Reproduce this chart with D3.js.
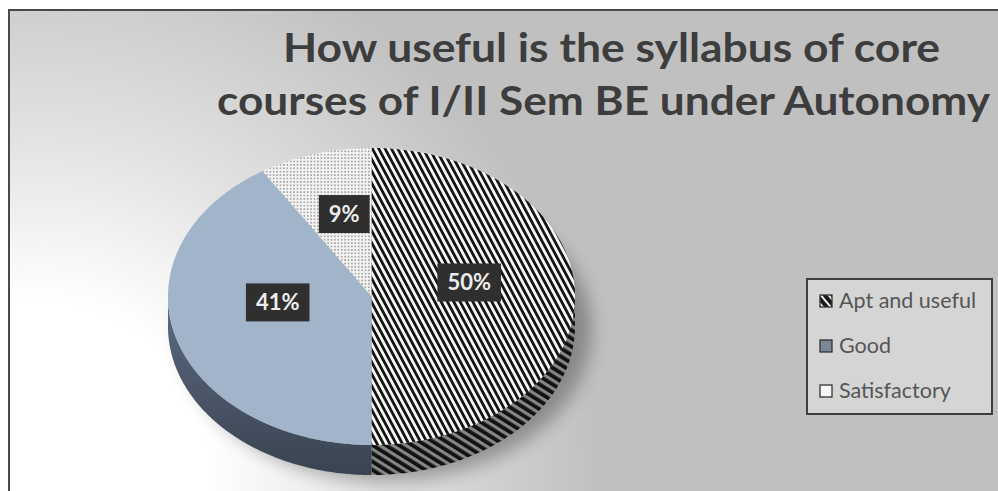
<!DOCTYPE html>
<html>
<head>
<meta charset="utf-8">
<script src="https://cdn.jsdelivr.net/npm/d3@7"></script>
<style>
  html, body { margin: 0; padding: 0; background: #ffffff; overflow: hidden; }
  svg { display: block; }
</style>
</head>
<body>
<svg id="chart" width="998" height="491"></svg>
<script>
// ---- data ----
const titleLines = ["How useful is the syllabus of core", "courses of I/II Sem BE under Autonomy"];
const categories = ["Apt and useful", "Good", "Satisfactory"];
const shares = [50, 41, 9];
const shareLabels = ["50%", "41%", "9%"];

// ---- setup ----
const W = 998, H = 491;
const svg = d3.select("#chart");
const defs = svg.append("defs");

// chart area background: light corner bottom-left fading to grey
const bg = defs.append("radialGradient")
  .attr("id", "bgGrad").attr("gradientUnits", "userSpaceOnUse")
  .attr("cx", 40).attr("cy", 470).attr("r", 560);
bg.selectAll("stop")
  .data([[0, "#ffffff"], [0.3, "#ffffff"], [0.6, "#e2e2e2"], [1, "#c0c0c0"]])
  .join("stop")
  .attr("offset", d => d[0]).attr("stop-color", d => d[1]);

// diagonal hatch for the top of "Apt and useful"
const hatchTop = defs.append("pattern")
  .attr("id", "hatchTop").attr("patternUnits", "userSpaceOnUse")
  .attr("width", 5.6).attr("height", 5.6)
  .attr("patternTransform", "rotate(-28)");
hatchTop.append("rect").attr("width", 5.6).attr("height", 5.6).attr("fill", "#f5f5f5");
hatchTop.append("rect").attr("width", 2.8).attr("height", 5.6).attr("fill", "#151515");

// darker, flatter hatch for its outer wall
const hatchSide = defs.append("pattern")
  .attr("id", "hatchSide").attr("patternUnits", "userSpaceOnUse")
  .attr("width", 7).attr("height", 7)
  .attr("patternTransform", "rotate(-58)");
hatchSide.append("rect").attr("width", 7).attr("height", 7).attr("fill", "#858585");
hatchSide.append("rect").attr("width", 3.8).attr("height", 7).attr("fill", "#111111");

// fine dot screen for "Satisfactory"
const dots = defs.append("pattern")
  .attr("id", "dots").attr("patternUnits", "userSpaceOnUse")
  .attr("width", 3.4).attr("height", 3.4);
dots.append("rect").attr("width", 3.4).attr("height", 3.4).attr("fill", "#f3f3f3");
dots.append("circle").attr("cx", 1.7).attr("cy", 1.7).attr("r", 0.85).attr("fill", "#8f8f8f");

// legend swatch hatch
const hatchKey = defs.append("pattern")
  .attr("id", "hatchKey").attr("patternUnits", "userSpaceOnUse")
  .attr("width", 6).attr("height", 6)
  .attr("patternTransform", "rotate(-40)");
hatchKey.append("rect").attr("width", 6).attr("height", 6).attr("fill", "#1a1a1a");
hatchKey.append("rect").attr("width", 2).attr("height", 6).attr("fill", "#f0f0f0");

const blur = defs.append("filter").attr("id", "soft")
  .attr("x", "-30%").attr("y", "-30%").attr("width", "160%").attr("height", "160%");
blur.append("feGaussianBlur").attr("stdDeviation", 9);

// ---- frame ----
svg.append("rect")
  .attr("x", 9).attr("y", 10).attr("width", W + 10).attr("height", H + 10)
  .attr("fill", "url(#bgGrad)")
  .attr("stroke", "#4a4a4a").attr("stroke-width", 2);

// ---- title ----
const titleSpecs = [
  { x: 283, y: 62, len: 657 },
  { x: 217, y: 115, len: 773 }
];
svg.append("g").selectAll("text")
  .data(titleLines)
  .join("text")
  .attr("x", (d, i) => titleSpecs[i].x)
  .attr("y", (d, i) => titleSpecs[i].y)
  .attr("textLength", (d, i) => titleSpecs[i].len)
  .attr("lengthAdjust", "spacingAndGlyphs")
  .attr("font-family", "Lato, 'Open Sans', sans-serif")
  .attr("font-weight", "bold")
  .attr("font-size", 41)
  .attr("fill", "#3d3d3d")
  .text(d => d);

// ---- 3D pie ----
const cx = 371.5, cy = 296.5, rx = 203.5, ry = 148.5, depth = 30;
const arcs = d3.pie().sort(null).value(d => d)(shares);

const pt = (a, f = 1, dy = 0) => [cx + rx * f * Math.sin(a), cy - ry * f * Math.cos(a) + dy];
const sampleArc = (a0, a1, dy = 0) => {
  const n = Math.max(2, Math.ceil((a1 - a0) / 0.01));
  return d3.range(n + 1).map(i => pt(a0 + (a1 - a0) * i / n, 1, dy));
};
const line = d3.line();

const topFill = ["url(#hatchTop)", "#a1b4c9", "url(#dots)"];

// Good wall shading
const goodSide = defs.append("linearGradient")
  .attr("id", "goodSide").attr("gradientUnits", "userSpaceOnUse")
  .attr("x1", 0).attr("y1", cy).attr("x2", 0).attr("y2", cy + ry + depth);
goodSide.append("stop").attr("offset", 0).attr("stop-color", "#5d6c82");
goodSide.append("stop").attr("offset", 1).attr("stop-color", "#394351");
const sideFill = ["url(#hatchSide)", "url(#goodSide)", "#8a8a8a"];

// soft drop shadow
svg.append("ellipse")
  .attr("cx", cx + 14).attr("cy", cy + depth + 4)
  .attr("rx", rx + 2).attr("ry", ry + 2)
  .attr("fill", "#000").attr("opacity", 0.3)
  .attr("filter", "url(#soft)");

const pieG = svg.append("g");

// outer walls (front half only)
pieG.selectAll("path.side")
  .data(arcs)
  .join("path")
  .attr("class", "side")
  .attr("d", d => {
    const a0 = Math.max(d.startAngle, Math.PI / 2);
    const a1 = Math.min(d.endAngle, 3 * Math.PI / 2);
    if (a1 <= a0) return null;
    const upper = sampleArc(a0, a1, 0);
    const lower = sampleArc(a0, a1, depth).reverse();
    return line(upper.concat(lower)) + "Z";
  })
  .attr("fill", (d, i) => sideFill[i]);

// top faces
pieG.selectAll("path.top")
  .data(arcs)
  .join("path")
  .attr("class", "top")
  .attr("d", d => line([[cx, cy]].concat(sampleArc(d.startAngle, d.endAngle))) + "Z")
  .attr("fill", (d, i) => topFill[i]);

// value labels
const labG = svg.append("g")
  .attr("font-family", "Lato, 'Open Sans', sans-serif")
  .attr("font-weight", "bold")
  .attr("font-size", 22);
arcs.forEach((d, i) => {
  const mid = (d.startAngle + d.endAngle) / 2;
  const [lx, ly] = pt(mid, 0.48, -14);
  const g = labG.append("g").attr("transform", `translate(${lx},${ly})`);
  const t = g.append("text")
    .attr("text-anchor", "middle").attr("dy", "0.36em")
    .attr("fill", "#ececec")
    .text(shareLabels[i]);
  const w = t.node().getComputedTextLength() + 20;
  g.insert("rect", "text")
    .attr("x", -w / 2).attr("y", -19).attr("width", w).attr("height", 38)
    .attr("fill", "#2f2f2f");
});

// ---- legend ----
const legend = svg.append("g");
legend.append("rect")
  .attr("x", 807).attr("y", 279).attr("width", 185).attr("height", 135)
  .attr("fill", "#d5d5d5").attr("stroke", "#3e3e3e").attr("stroke-width", 2);
const keyFill = ["url(#hatchKey)", "#7b8898", "#f6f6f6"];
const rowY = [308, 353, 398];
const rows = legend.selectAll("g.row")
  .data(categories)
  .join("g")
  .attr("class", "row")
  .attr("transform", (d, i) => `translate(0,${rowY[i]})`);
rows.append("rect")
  .attr("x", 820).attr("y", -13).attr("width", 12).attr("height", 12)
  .attr("fill", (d, i) => keyFill[i])
  .attr("stroke", "#333").attr("stroke-width", 1.3);
rows.append("text")
  .attr("x", 839).attr("y", 0)
  .attr("font-family", "Lato, 'Open Sans', sans-serif")
  .attr("font-size", 21.5)
  .attr("fill", "#565656")
  .text(d => d);
</script>
</body>
</html>
